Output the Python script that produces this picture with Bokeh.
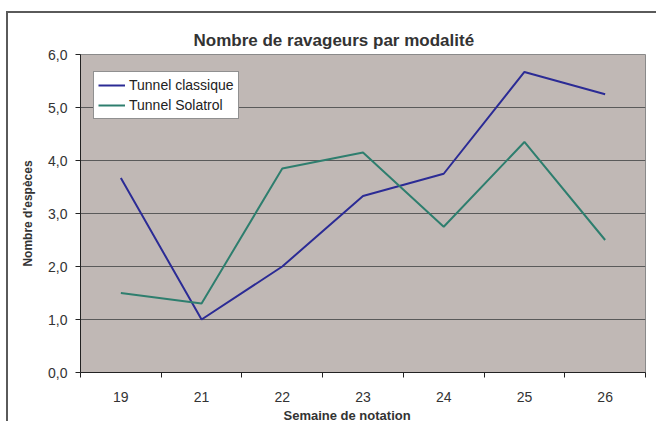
from bokeh.plotting import figure
from bokeh.models import FixedTicker, Legend, LegendItem, Title
from bokeh.embed import file_html
from bokeh.resources import INLINE

weeks = ["19", "21", "22", "23", "24", "25", "26"]
classique = [3.67, 1.0, 2.0, 3.33, 3.75, 5.67, 5.25]
solatrol = [1.5, 1.3, 3.85, 4.15, 2.75, 4.35, 2.5]
y_ticks = [0, 1, 2, 3, 4, 5, 6]
y_tick_labels = ["0,0", "1,0", "2,0", "3,0", "4,0", "5,0", "6,0"]

xs = [i + 0.5 for i in range(len(weeks))]

FONT = "Liberation Sans"

p = figure(width=650, height=410, output_backend="svg", toolbar_location=None,
           x_range=(0, len(weeks)), y_range=(0, 6),
           min_border_left=72, min_border_right=13, min_border_top=41, min_border_bottom=10,
           background_fill_color="#C0B8B5", border_fill_color="white",
           styles={"border-left": "2px solid #5a5a5a", "border-top": "2px solid #5a5a5a",
                   "margin-left": "6px", "margin-top": "11px"})
p.outline_line_color = "#8a8a8a"
p.outline_line_width = 1

p.title.text = "Nombre de ravageurs par modalité"
p.title.align = "left"
p.title.offset = 113
p.title.text_font = FONT
p.title.text_font_size = "17px"
p.title.text_font_style = "bold"
p.title.text_color = "#333333"
p.title.standoff = 10

# grid
p.xgrid.grid_line_color = None
p.ygrid.grid_line_color = "#5a5a5a"
p.ygrid.grid_line_width = 1
p.ygrid.ticker = FixedTicker(ticks=y_ticks)

# y axis
p.yaxis.ticker = FixedTicker(ticks=y_ticks)
p.yaxis.major_label_overrides = {t: l for t, l in zip(y_ticks, y_tick_labels)}
p.yaxis.major_tick_out = 5
p.yaxis.major_tick_in = 0
p.yaxis.minor_tick_out = 0
p.yaxis.minor_tick_in = 0
p.yaxis.axis_line_color = "#222222"
p.yaxis.major_tick_line_color = "#222222"
p.yaxis.major_label_text_font = FONT
p.yaxis.major_label_text_font_size = "14px"
p.yaxis.major_label_text_color = "#333333"
p.yaxis.major_label_standoff = 8
p.yaxis.axis_label = "Nombre d'espèces"
p.yaxis.axis_label_text_font = FONT
p.yaxis.axis_label_text_font_size = "12px"
p.yaxis.axis_label_text_font_style = "bold"
p.yaxis.axis_label_text_color = "#333333"
p.yaxis.axis_label_standoff = 10

# x axis
p.xaxis.ticker = FixedTicker(ticks=xs, minor_ticks=list(range(len(weeks) + 1)))
p.xaxis.major_label_overrides = {x: w for x, w in zip(xs, weeks)}
p.xaxis.major_tick_out = 0
p.xaxis.major_tick_in = 0
p.xaxis.minor_tick_out = 5
p.xaxis.minor_tick_in = 0
p.xaxis.axis_line_color = "#222222"
p.xaxis.minor_tick_line_color = "#222222"
p.xaxis.major_label_text_font = FONT
p.xaxis.major_label_text_font_size = "14px"
p.xaxis.major_label_text_color = "#333333"
p.xaxis.major_label_standoff = 14

xlabel = Title(text="Semaine de notation", align="left", offset=203,
               text_font=FONT, text_font_size="13px", text_font_style="bold",
               text_color="#333333", standoff=2)
p.add_layout(xlabel, "below")

r1 = p.line(xs, classique, line_color="#2B2B95", line_width=2)
r2 = p.line(xs, solatrol, line_color="#2E7E6E", line_width=2)

legend = Legend(items=[LegendItem(label="Tunnel classique", renderers=[r1]),
                       LegendItem(label="Tunnel Solatrol", renderers=[r2])],
                location=(13, 253), padding=4, spacing=2, margin=0,
                glyph_width=27, glyph_height=18, label_height=18, label_standoff=4,
                label_text_font=FONT, label_text_font_size="14px", label_text_color="#222222",
                border_line_color="#222222", border_line_width=1,
                background_fill_color="white", background_fill_alpha=1.0)
p.add_layout(legend, "center")

open("out.html", "w").write(file_html(p, INLINE))
